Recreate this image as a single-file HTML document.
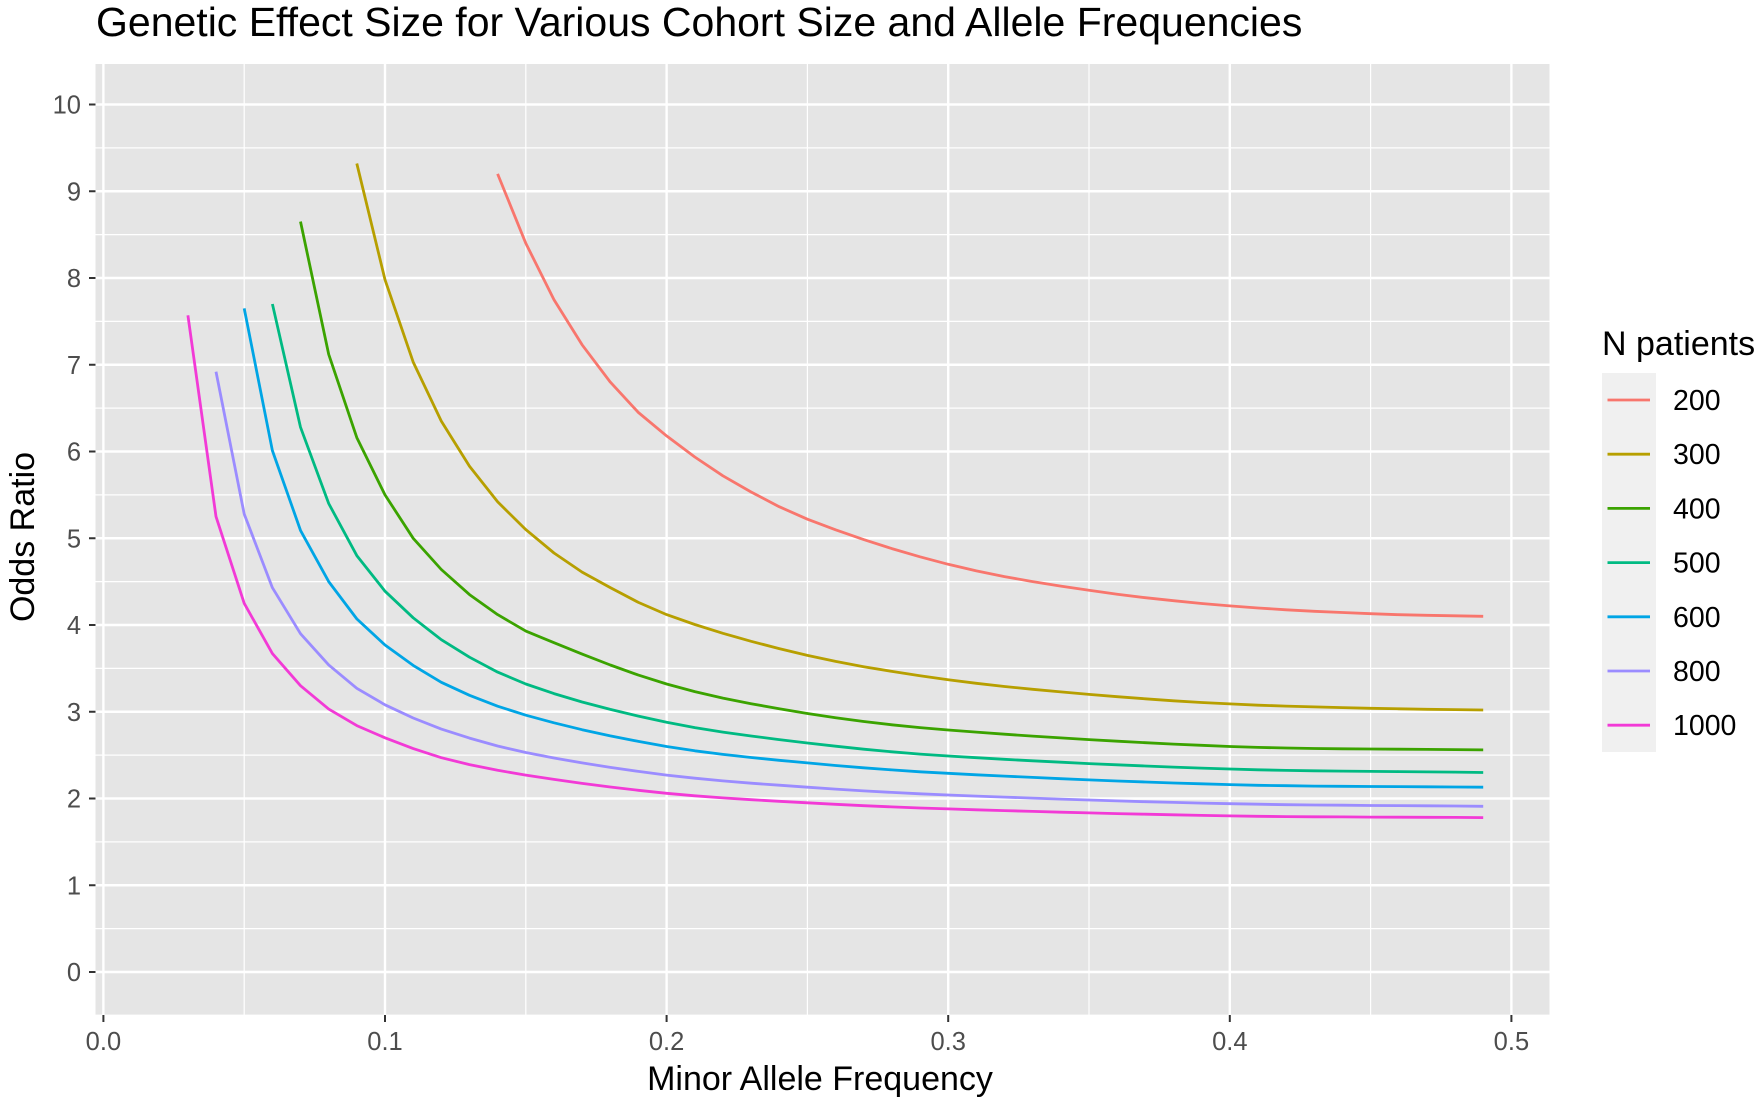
<!DOCTYPE html>
<html><head><meta charset="utf-8"><style>
body{margin:0;background:#fff;}
svg text{font-family:"Liberation Sans",Arial,sans-serif;}
</style></head><body>
<svg id="s" width="1762" height="1104" viewBox="0 0 1762 1104" xmlns="http://www.w3.org/2000/svg">
<rect width="1762" height="1104" fill="#fff"/>
<text x="96" y="36" font-size="41" fill="#000">Genetic Effect Size for Various Cohort Size and Allele Frequencies</text>
<rect x="95.5" y="64" width="1454" height="951" fill="#e5e5e5"/>
<g id="grid"></g>
<g id="lines" fill="none" stroke-width="2.8" stroke-linejoin="round"></g>
<g id="ax" font-size="25.5" fill="#4d4d4d"></g>
<text x="820" y="1090" font-size="34" text-anchor="middle" fill="#000">Minor Allele Frequency</text>
<text transform="translate(34,537) rotate(-90)" font-size="34" text-anchor="middle" fill="#000">Odds Ratio</text>
<text x="1602" y="355" font-size="34" fill="#000">N patients</text>
<rect x="1602" y="373" width="54" height="379" fill="#f0f0f0"/>
<g id="leg" font-size="28.5" fill="#000"></g>
</svg>
<script>
const NS="http://www.w3.org/2000/svg";
const X=m=>103.4+2816*m, Y=v=>972-86.75*v;
function el(p,t,a,txt){const e=document.createElementNS(NS,t);for(const k in a)e.setAttribute(k,a[k]);if(txt!==undefined)e.textContent=txt;document.getElementById(p).appendChild(e);return e;}
for(let i=0;i<=10;i++){el('grid','line',{x1:95.5,x2:1549.5,y1:Y(i),y2:Y(i),stroke:'#fff','stroke-width':2.4});
 if(i<10)el('grid','line',{x1:95.5,x2:1549.5,y1:Y(i+.5),y2:Y(i+.5),stroke:'#fff','stroke-width':1.2});
 el('ax','line',{x1:89,x2:95.5,y1:Y(i),y2:Y(i),stroke:'#333','stroke-width':2});
 el('ax','text',{x:81,y:Y(i)+9,'text-anchor':'end'},String(i));}
el('grid','line',{x1:95.5,x2:1549.5,y1:Y(-.5),y2:Y(-.5),stroke:'#fff','stroke-width':1.2});
for(let i=0;i<=5;i++){const x=X(i/10);el('grid','line',{x1:x,x2:x,y1:64,y2:1015,stroke:'#fff','stroke-width':2.4});
 if(i<5)el('grid','line',{x1:X(i/10+.05),x2:X(i/10+.05),y1:64,y2:1015,stroke:'#fff','stroke-width':1.2});
 el('ax','line',{x1:x,x2:x,y1:1015,y2:1022,stroke:'#333','stroke-width':2});
 el('ax','text',{x:x,y:1050,'text-anchor':'middle'},(i/10).toFixed(1));}
el('grid','line',{x1:95.5,x2:1549.5,y1:Y(-.5),y2:Y(-.5),stroke:'#fff','stroke-width':1.2});
const D=[
['200','#f8766d',[[.14,9.2],[.15,8.4],[.16,7.75],[.17,7.23],[.18,6.8],[.19,6.45],[.2,6.18],[.22,5.72],[.25,5.22],[.3,4.7],[.35,4.4],[.4,4.22],[.45,4.13],[.49,4.1]]],
['300','#b79f00',[[.09,9.32],[.1,7.98],[.11,7.03],[.12,6.35],[.13,5.83],[.14,5.42],[.15,5.1],[.16,4.83],[.17,4.61],[.2,4.12],[.25,3.65],[.3,3.37],[.35,3.2],[.4,3.09],[.45,3.04],[.49,3.02]]],
['400','#3ba300',[[.07,8.65],[.08,7.12],[.09,6.16],[.1,5.5],[.11,5.0],[.12,4.64],[.13,4.35],[.14,4.12],[.15,3.93],[.2,3.32],[.25,2.98],[.3,2.79],[.4,2.6],[.49,2.56]]],
['500','#00ba82',[[.06,7.7],[.07,6.28],[.08,5.4],[.09,4.8],[.1,4.39],[.12,3.83],[.15,3.32],[.2,2.88],[.25,2.64],[.3,2.49],[.4,2.34],[.49,2.3]]],
['600','#00a5e5',[[.05,7.65],[.06,6.01],[.07,5.09],[.08,4.5],[.09,4.07],[.1,3.77],[.12,3.34],[.15,2.96],[.2,2.6],[.25,2.41],[.3,2.29],[.4,2.16],[.49,2.13]]],
['800','#9b8cff',[[.04,6.92],[.05,5.28],[.06,4.43],[.07,3.9],[.08,3.54],[.09,3.27],[.1,3.08],[.12,2.8],[.15,2.53],[.2,2.27],[.25,2.13],[.3,2.04],[.4,1.94],[.49,1.91]]],
['1000','#f23ad6',[[.03,7.57],[.04,5.25],[.05,4.25],[.06,3.67],[.07,3.3],[.08,3.03],[.09,2.84],[.1,2.7],[.12,2.47],[.15,2.27],[.2,2.06],[.25,1.95],[.3,1.88],[.4,1.8],[.49,1.78]]]];
function interp(P,m){let i=0;while(i<P.length-2&&m>P[i+1][0])i++;
 const p0=P[Math.max(0,i-1)],p1=P[i],p2=P[i+1],p3=P[Math.min(P.length-1,i+2)];
 const h=p2[0]-p1[0],t=(m-p1[0])/h;
 const m1=(p2[1]-p0[1])/(p2[0]-p0[0]||1)*h, m2=(p3[1]-p1[1])/(p3[0]-p1[0]||1)*h;
 const t2=t*t,t3=t2*t;
 return (2*t3-3*t2+1)*p1[1]+(t3-2*t2+t)*m1+(-2*t3+3*t2)*p2[1]+(t3-t2)*m2;}
D.forEach((d,k)=>{const P=d[2];let pts=[];
 for(let m=Math.round(P[0][0]*100);m<=49;m++){const v=interp(P,m/100);pts.push(X(m/100).toFixed(1)+','+Y(v).toFixed(1));}
 el('lines','polyline',{points:pts.join(' '),stroke:d[1]});
 const yy=400+k*54.2;
 el('leg','line',{x1:1607.5,x2:1650,y1:yy,y2:yy,stroke:d[1],'stroke-width':2.8});
 el('leg','text',{x:1673,y:yy+10},d[0]);});
</script>
</body></html>
